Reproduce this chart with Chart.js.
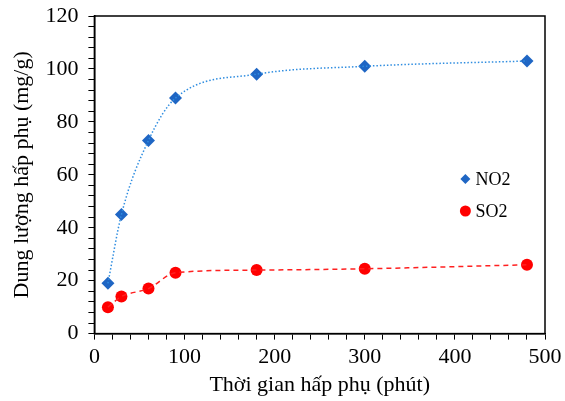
<!DOCTYPE html>
<html>
<head>
<meta charset="utf-8">
<script src="https://cdn.jsdelivr.net/npm/chart.js@4"></script>
<style>
  body { margin: 0; background: #fff; }
  #wrap { width: 565px; height: 401px; }
</style>
</head>
<body>
<div id="wrap"><canvas id="chart"></canvas></div>
<script>
// thời gian hấp phụ (phút)
const time = [15, 30, 60, 90, 180, 300, 480];
// dung lượng hấp phụ (mg/g)
const no2 = [19, 45, 73, 89, 98, 101, 103];
const so2 = [10, 14, 17, 23, 24, 24.5, 26];

const seriesNames = ['NO2', 'SO2'];
const xTitle = 'Thời gian hấp phụ (phút)';
const yTitle = 'Dung lượng hấp phụ (mg/g)';

const FONT = "'Liberation Serif', 'Times New Roman', serif";

function toPoints(ys) {
    return time.map((t, i) => ({ x: t, y: ys[i] }));
}

// box round the plot + legend inside the plot
const boxAndLegend = {
    id: 'boxAndLegend',
    afterDraw(chart) {
        const ctx = chart.ctx;
        const a = chart.chartArea;
        ctx.save();
        ctx.strokeStyle = '#000';
        ctx.lineWidth = 1.5;
        ctx.strokeRect(a.left, a.top, a.right - a.left, a.bottom - a.top);

        // legend
        const items = chart.data.datasets.filter(d => d.inLegend);
        ctx.font = '18px ' + FONT;
        ctx.textBaseline = 'middle';
        items.forEach((d, i) => {
            const x = a.left + 371;
            const y = a.top + 163 + i * 32;
            ctx.fillStyle = d.backgroundColor;
            ctx.beginPath();
            if (d.pointStyle === 'rectRot') {
                const r = 5;
                ctx.moveTo(x, y - r); ctx.lineTo(x + r, y); ctx.lineTo(x, y + r); ctx.lineTo(x - r, y);
                ctx.closePath();
            } else {
                ctx.arc(x, y, 5.5, 0, Math.PI * 2);
            }
            ctx.fill();
            ctx.fillStyle = '#000';
            ctx.fillText(d.label, x + 10, y + 1);
        });
        ctx.restore();
    }
};

new Chart(document.getElementById('chart'), {
    type: 'scatter',
    data: {
        datasets: [
            {
                label: seriesNames[0] + ' fit',
                data: toPoints(no2),
                showLine: true,
                pointRadius: 0,
                borderColor: '#2f8de0',
                borderWidth: 1.5,
                borderDash: [1.5, 2],
                cubicInterpolationMode: 'monotone',
                fill: false
            },
            {
                label: seriesNames[1] + ' fit',
                data: toPoints(so2),
                showLine: true,
                pointRadius: 0,
                borderColor: '#ff2020',
                borderWidth: 1.5,
                borderDash: [5, 4],
                cubicInterpolationMode: 'monotone',
                fill: false
            },
            {
                label: seriesNames[0],
                inLegend: true,
                data: toPoints(no2),
                pointStyle: 'rectRot',
                pointRadius: 6.5,
                backgroundColor: '#1f66c4',
                borderColor: '#1f66c4',
                borderWidth: 0
            },
            {
                label: seriesNames[1],
                inLegend: true,
                data: toPoints(so2),
                pointStyle: 'circle',
                pointRadius: 6,
                backgroundColor: '#ff0000',
                borderColor: '#ff0000',
                borderWidth: 0
            }
        ]
    },
    options: {
        responsive: true,
        maintainAspectRatio: false,
        animation: false,
        layout: { padding: { top: 16, right: 20, bottom: 5, left: 9 } },
        plugins: {
            legend: { display: false },
            tooltip: { enabled: false }
        },
        scales: {
            x: {
                type: 'linear',
                min: 0,
                max: 500,
                afterFit: s => { s.paddingLeft = 0; s.paddingRight = 0; },
                border: { display: true, color: '#000', width: 1.5 },
                grid: {
                    drawOnChartArea: false,
                    drawTicks: true,
                    tickLength: 6,
                    color: '#000',
                    lineWidth: 1
                },
                ticks: {
                    stepSize: 20,
                    autoSkip: false,
                    maxRotation: 0,
                    padding: 4,
                    color: '#000',
                    font: { family: FONT, size: 22 },
                    callback: v => (v % 100 === 0 ? v : '')
                },
                title: {
                    display: true,
                    text: xTitle,
                    color: '#000',
                    font: { family: FONT, size: 22, lineHeight: 1.0 },
                    padding: { top: 0, bottom: 0 }
                }
            },
            y: {
                min: 0,
                max: 120,
                afterFit: s => { s.paddingTop = 0; s.paddingBottom = 0; },
                border: { display: true, color: '#000', width: 1.5 },
                grid: {
                    drawOnChartArea: false,
                    drawTicks: true,
                    tickLength: 6,
                    color: '#000',
                    lineWidth: 1
                },
                ticks: {
                    stepSize: 4,
                    autoSkip: false,
                    padding: 10,
                    color: '#000',
                    font: { family: FONT, size: 22 },
                    callback: v => (v % 20 === 0 ? v : '')
                },
                title: {
                    display: true,
                    text: yTitle,
                    color: '#000',
                    font: { family: FONT, size: 22 },
                    padding: { top: 0, bottom: 0 }
                }
            }
        }
    },
    plugins: [boxAndLegend]
});
</script>
</body>
</html>
